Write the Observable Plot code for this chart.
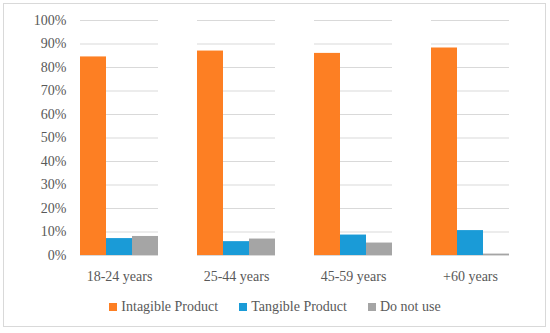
<!DOCTYPE html>
<html>
<head>
<meta charset="utf-8">
<script src="https://cdn.jsdelivr.net/npm/d3@7"></script>
<script src="https://cdn.jsdelivr.net/npm/@observablehq/plot@0.6"></script>
<style>
  html, body { margin: 0; padding: 0; background: #fff; }
  #frame { position: absolute; left: 3px; top: 3px; width: 543px; height: 324px; border: 1px solid #d9d9d9; box-sizing: border-box; }
  #chart { position: absolute; left: 0; top: 0; }
  #legend { position: absolute; left: 0; top: 299px; width: 550px; display: flex; justify-content: center; gap: 21px;
    font-family: 'Liberation Serif', 'DejaVu Serif', serif; font-size: 14px; color: #595959; }
  #legend span.item { display: flex; align-items: center; }
  #legend span.sw { display: inline-block; width: 8px; height: 8px; margin-right: 4px; }
</style>
</head>
<body>
<div id="frame"></div>
<div id="chart"></div>
<div id="legend"></div>
<script>
const categories = ["18-24 years", "25-44 years", "45-59 years", "+60 years"];
const seriesNames = ["Intagible Product", "Tangible Product", "Do not use"];
const intangible = [0.845, 0.870, 0.860, 0.883];
const tangible = [0.072, 0.059, 0.087, 0.106];
const doNotUse = [0.081, 0.070, 0.053, 0.006];
const colors = ["#fd7f23", "#1a9bd7", "#a5a5a5"];
const yTicks = [0, 0.1, 0.2, 0.3, 0.4, 0.5, 0.6, 0.7, 0.8, 0.9, 1.0];

const seriesValues = [intangible, tangible, doNotUse];
const data = [];
categories.forEach((c, i) => {
  seriesNames.forEach((s, j) => data.push({ age: c, series: s, value: seriesValues[j][i] }));
});

const font = "'Liberation Serif', 'DejaVu Serif', serif";
const plot = Plot.plot({
  width: 550,
  height: 292,
  marginLeft: 59,
  marginRight: 20,
  marginTop: 20,
  marginBottom: 37,
  style: { fontFamily: font, fontSize: "14px", color: "#595959", background: "transparent" },
  fx: { domain: categories, paddingInner: 0.3376, paddingOuter: 0.1688, label: null },
  x: { domain: seriesNames, padding: 0, axis: null },
  y: { domain: [0, 1], label: null },
  color: { domain: seriesNames, range: colors },
  marks: [
    Plot.ruleY(yTicks, { y: d => d, stroke: "#d9d9d9", strokeWidth: 1, facetAnchor: null, frameAnchor: null }),
    Plot.barY(data, { fx: "age", x: "series", y: "value", fill: "series" }),
    Plot.axisY({ ticks: yTicks, tickFormat: d => Math.round(d * 100) + "%", tickSize: 0, tickPadding: 14, fill: "#595959", label: null, fontSize: 14 }),
    Plot.axisFx({ anchor: "bottom", tickSize: 0, tickPadding: 16, fill: "#595959", label: null, fontSize: 14 })
  ]
});
plot.style.fontFamily = font;
plot.querySelectorAll("text, g").forEach(n => n.setAttribute("font-family", font));
document.getElementById("chart").appendChild(plot);

const legend = document.getElementById("legend");
seriesNames.forEach((s, j) => {
  const item = document.createElement("span");
  item.className = "item";
  const sw = document.createElement("span");
  sw.className = "sw";
  sw.style.background = colors[j];
  item.appendChild(sw);
  item.appendChild(document.createTextNode(s));
  legend.appendChild(item);
});
</script>
</body>
</html>
